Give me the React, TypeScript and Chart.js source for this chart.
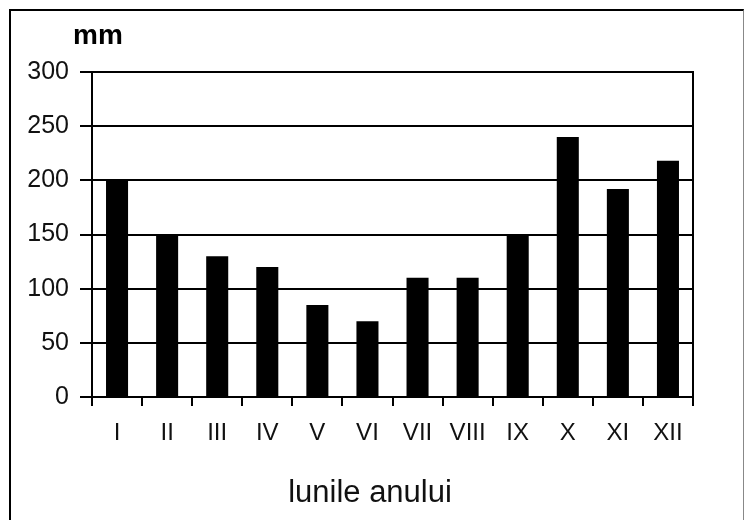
import React, { useEffect, useRef } from "react";
import { Chart, registerables } from "chart.js";

Chart.register(...registerables);

const months = ["I", "II", "III", "IV", "V", "VI", "VII", "VIII", "IX", "X", "XI", "XII"];
const rainfall = [200, 150, 130, 120, 85, 70, 110, 110, 150, 240, 192, 218];
const yTicks = [0, 50, 100, 150, 200, 250, 300];
const unitLabel = "mm";
const xTitle = "lunile anului";

const extrasPlugin = {
  id: "extras",
  afterDraw(chart: any) {
    const { ctx, chartArea } = chart;
    ctx.save();
    ctx.strokeStyle = "#000";
    ctx.lineWidth = 2;
    ctx.beginPath();
    ctx.moveTo(chartArea.right, chartArea.top - 1);
    ctx.lineTo(chartArea.right, chartArea.bottom + 9);
    ctx.stroke();
    ctx.fillStyle = "#000";
    ctx.font = "bold 28px 'Liberation Sans', Arial, sans-serif";
    ctx.textAlign = "center";
    ctx.textBaseline = "alphabetic";
    ctx.fillText(unitLabel, chartArea.left + 6, chartArea.top - 28);
    ctx.fillStyle = "#111";
    ctx.font = "31px 'Liberation Sans', Arial, sans-serif";
    ctx.fillText(xTitle, chart.width / 2 - 2, chartArea.bottom + 105);
    ctx.restore();
  },
};

export default function App() {
  const ref = useRef<HTMLCanvasElement | null>(null);
  useEffect(() => {
    if (!ref.current) return;
    const chart = new Chart(ref.current, {
      type: "bar",
      data: {
        labels: months,
        datasets: [
          {
            data: rainfall,
            backgroundColor: "#000",
            borderWidth: 0,
            barPercentage: 0.44,
            categoryPercentage: 1,
          },
        ],
      },
      options: {
        animation: false,
        responsive: false,
        devicePixelRatio: 1,
        layout: { padding: { left: 0, top: 72, right: 51, bottom: 0 } },
        plugins: { legend: { display: false }, tooltip: { enabled: false } },
        scales: {
          x: {
            afterFit: (s: any) => {
              s.height = 123;
            },
            grid: {
              offset: true,
              drawOnChartArea: false,
              drawTicks: true,
              tickLength: 9,
              color: "#000",
              lineWidth: 2,
            },
            border: { display: true, color: "#000", width: 2 },
            ticks: {
              color: "#111",
              padding: 15,
              maxRotation: 0,
              autoSkip: false,
              font: { family: "'Liberation Sans', Arial, sans-serif", size: 24, lineHeight: 1 },
            },
          },
          y: {
            min: 0,
            max: 300,
            afterFit: (s: any) => {
              s.width = 92;
            },
            afterBuildTicks: (s: any) => {
              s.ticks = yTicks.map((v) => ({ value: v }));
            },
            grid: {
              color: "#000",
              lineWidth: 2,
              tickLength: 12,
              drawTicks: true,
            },
            border: { display: true, color: "#000", width: 2 },
            ticks: {
              color: "#111",
              padding: 11,
              font: { family: "'Liberation Sans', Arial, sans-serif", size: 25, lineHeight: 1 },
            },
          },
        },
      },
      plugins: [extrasPlugin],
    });
    return () => chart.destroy();
  }, []);
  return (
    <div style={{ position: "absolute", left: 0, top: 0, width: 744, height: 520, overflow: "hidden", background: "#fff" }}>
      <div
        style={{
          position: "absolute",
          left: 9,
          top: 9,
          width: 732,
          height: 520,
          borderLeft: "2px solid #000",
          borderTop: "2px solid #000",
          borderRight: "1px solid #888",
        }}
      />
      <canvas ref={ref} width={744} height={520} style={{ position: "absolute", left: 0, top: 0 }} />
    </div>
  );
}
